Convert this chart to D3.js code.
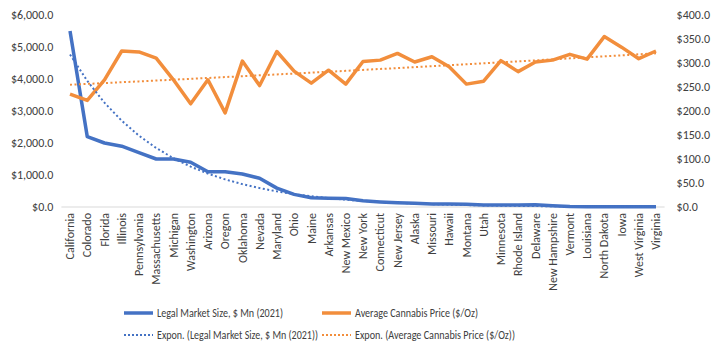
<!DOCTYPE html>
<html>
<head>
<meta charset="utf-8">
<script src="https://cdn.jsdelivr.net/npm/d3@7"></script>
<style>
  body { margin: 0; background: #fff; }
  svg text { font-family: Carlito, Calibri, Lato, sans-serif; fill: #404040; }
</style>
</head>
<body>
<div id="graf"></div>
<script>
// Legal market size vs. average cannabis price, by state

const states = ['California', 'Colorado', 'Florida', 'Illinois', 'Pennsylvania',
  'Massachusetts', 'Michigan', 'Washington', 'Arizona', 'Oregon', 'Oklahoma',
  'Nevada', 'Maryland', 'Ohio', 'Maine', 'Arkansas', 'New Mexico', 'New York',
  'Connecticut', 'New Jersey', 'Alaska', 'Missouri', 'Hawaii', 'Montana', 'Utah',
  'Minnesota', 'Rhode Island', 'Delaware', 'New Hampshire', 'Vermont', 'Louisiana',
  'North Dakota', 'Iowa', 'West Virginia', 'Virginia']

// Legal Market Size, $ Mn (2021)
const marketSize = [5500, 2200, 2000, 1900, 1700, 1500, 1500, 1400, 1100, 1100, 1030,
  900, 590, 395, 290, 275, 265, 195, 160, 135, 115, 90, 90, 85, 63,
  63, 63, 70, 42, 15, 10, 8, 6, 5, 4]

// Average Cannabis Price ($/Oz)
const price = [235, 222, 265, 325, 323, 310, 265, 215, 265, 196, 304,
  253, 324, 283, 258, 285, 256, 303, 306, 320, 302, 313, 292, 256, 262,
  305, 282, 302, 306, 318, 308, 355, 333, 309, 325]

const leftTicks = [0, 1000, 2000, 3000, 4000, 5000, 6000]
const rightTicks = [0, 50, 100, 150, 200, 250, 300, 350, 400]

const azul = '#4472C4'
const naranja = '#F28E3C'

const ancho_total = 720
const alto_total = 353
const plot = { left: 61.4, right: 664.6, top: 15, bottom: 207 }

const svg = d3.select('#graf').append('svg')
  .attr('width', ancho_total)
  .attr('height', alto_total)

// Escaladores
const x = d3.scalePoint().domain(states).range([plot.left, plot.right]).padding(0.5)
const yL = d3.scaleLinear().domain([0, 6000]).range([plot.bottom, plot.top])
const yR = d3.scaleLinear().domain([0, 400]).range([plot.bottom, plot.top])

// Ejes
const ejeL = svg.append('g')
  .attr('transform', `translate(${plot.left}, 0)`)
  .call(d3.axisLeft(yL).tickValues(leftTicks).tickSize(0).tickPadding(8)
    .tickFormat(d3.format('$,.1f')))
const ejeR = svg.append('g')
  .attr('transform', `translate(${plot.right}, 0)`)
  .call(d3.axisRight(yR).tickValues(rightTicks).tickSize(0).tickPadding(12)
    .tickFormat(d3.format('$.1f')))
;[ejeL, ejeR].forEach(e => {
  e.select('.domain').remove()
  e.selectAll('text').style('font-size', '12px').attr('fill', '#404040')
})

// linea base
svg.append('line')
  .attr('x1', plot.left).attr('x2', plot.right)
  .attr('y1', plot.bottom).attr('y2', plot.bottom)
  .attr('stroke', '#D9D9D9').attr('stroke-width', 1)

// etiquetas de estados
svg.append('g').selectAll('text')
  .data(states)
  .join('text')
  .attr('transform', d => `translate(${x(d)}, 213) rotate(-90)`)
  .attr('text-anchor', 'end')
  .attr('dy', '0.35em')
  .style('font-size', '12px')
  .text(d => d)

// Ajuste exponencial (como la linea de tendencia de Excel)
function expFit(vals) {
  const xs = vals.map((v, i) => i + 1)
  const ls = vals.map(v => Math.log(v))
  const mx = d3.mean(xs), ml = d3.mean(ls)
  const b = d3.sum(xs, (xi, i) => (xi - mx) * (ls[i] - ml)) / d3.sum(xs, xi => (xi - mx) ** 2)
  const a = Math.exp(ml - b * mx)
  return xs.map(xi => a * Math.exp(b * xi))
}

const lineaL = d3.line().x((d, i) => x(states[i])).y(d => yL(d))
const lineaR = d3.line().x((d, i) => x(states[i])).y(d => yR(d))

svg.append('path')
  .attr('d', lineaL(marketSize))
  .attr('fill', 'none').attr('stroke', azul).attr('stroke-width', 3.5)
  .attr('stroke-linejoin', 'round')
svg.append('path')
  .attr('d', lineaR(price))
  .attr('fill', 'none').attr('stroke', naranja).attr('stroke-width', 3.5)
  .attr('stroke-linejoin', 'round')

svg.append('path')
  .attr('d', lineaL(expFit(marketSize)))
  .attr('fill', 'none').attr('stroke', azul).attr('stroke-width', 2)
  .attr('stroke-dasharray', '2,2.5')
svg.append('path')
  .attr('d', lineaR(expFit(price)))
  .attr('fill', 'none').attr('stroke', naranja).attr('stroke-width', 2)
  .attr('stroke-dasharray', '2,2.5')

// Leyenda
const leyenda = [
  { nombre: 'Legal Market Size, $ Mn (2021)', color: azul, dash: null, x: 124, y: 313, w: 126 },
  { nombre: 'Average Cannabis Price ($/Oz)', color: naranja, dash: null, x: 322, y: 313, w: 123 },
  { nombre: 'Expon. (Legal Market Size, $ Mn (2021))', color: azul, dash: '2,2', x: 124, y: 335, w: 161 },
  { nombre: 'Expon. (Average Cannabis Price ($/Oz))', color: naranja, dash: '2,2', x: 322, y: 335, w: 160 }
]
const li = svg.append('g').selectAll('g').data(leyenda).join('g')
  .attr('transform', d => `translate(${d.x}, ${d.y})`)
li.append('line')
  .attr('x1', 0).attr('x2', 29)
  .attr('stroke', d => d.color)
  .attr('stroke-width', d => d.dash ? 2 : 3.5)
  .attr('stroke-dasharray', d => d.dash)
li.append('text')
  .attr('x', 33).attr('dy', '0.35em')
  .style('font-size', '12px')
  .attr('textLength', d => d.w)
  .attr('lengthAdjust', 'spacingAndGlyphs')
  .text(d => d.nombre)
</script>
</body>
</html>
